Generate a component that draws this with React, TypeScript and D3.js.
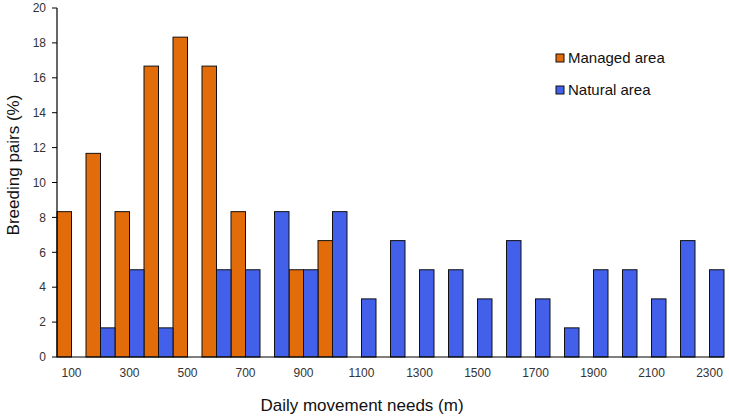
import React from 'react';
import * as d3 from 'd3';

// distances (m) for each class
const categories = [100, 200, 300, 400, 500, 600, 700, 800, 900, 1000, 1100, 1200,
  1300, 1400, 1500, 1600, 1700, 1800, 1900, 2000, 2100, 2200, 2300];

// % of breeding pairs
const managed = [8.33, 11.67, 8.33, 16.67, 18.33, 16.67, 8.33, 0, 5, 6.67, 0, 0,
  0, 0, 0, 0, 0, 0, 0, 0, 0, 0, 0];
const natural = [0, 1.67, 5, 1.67, 0, 5, 5, 8.33, 5, 8.33, 3.33, 6.67,
  5, 5, 3.33, 6.67, 3.33, 1.67, 5, 5, 3.33, 6.67, 5];

const yTicks = [0, 2, 4, 6, 8, 10, 12, 14, 16, 18, 20];
const xTickLabels = [100, 300, 500, 700, 900, 1100, 1300, 1500, 1700, 1900, 2100, 2300];

const seriesNames = ['Managed area', 'Natural area'];
const colors = ['#E36C0A', '#4260EA'];

const W = 729;
const H = 417;
const font = 'Arial, "Liberation Sans", sans-serif';

const App = () => {
  const x = d3.scaleBand<number>()
    .domain(categories)
    .range([57, 724])
    .padding(0);

  const sub = d3.scaleBand<number>()
    .domain([0, 1])
    .range([0, x.bandwidth()])
    .padding(0);

  const y = d3.scaleLinear()
    .domain([0, 20])
    .range([357, 8]);

  const series = [managed, natural];

  return (
    <div style={{ position: 'fixed', left: 0, top: 0 }}>
      <svg width={W} height={H} style={{ display: 'block', background: '#fff' }}>
        {/* bars */}
        {series.map((vals, s) => (
          <g key={s}>
            {vals.map((v, i) => (
              v > 0 ? (
                <rect
                  key={i}
                  x={x(categories[i])! + sub(s)!}
                  y={y(v)}
                  width={sub.bandwidth()}
                  height={y(0) - y(v)}
                  fill={colors[s]}
                  stroke="#111"
                  strokeWidth={1}
                />
              ) : null
            ))}
          </g>
        ))}

        {/* y axis */}
        <line x1={57} x2={57} y1={y(20)} y2={y(0)} stroke="#000" strokeWidth={1.2} />
        {yTicks.map(t => (
          <g key={t}>
            <line x1={52} x2={57} y1={y(t)} y2={y(t)} stroke="#000" strokeWidth={1} />
            <text x={46} y={y(t)} dy="0.35em" textAnchor="end"
              fontFamily={font} fontSize={12} fill="#333">{t}</text>
          </g>
        ))}

        {/* x axis */}
        <line x1={57} x2={724} y1={y(0)} y2={y(0)} stroke="#000" strokeWidth={1.2} />
        {xTickLabels.map(t => (
          <text key={t} x={x(t)! + x.bandwidth() / 2} y={377} textAnchor="middle"
            fontFamily={font} fontSize={12} fill="#333">{t}</text>
        ))}

        {/* axis titles */}
        <text x={362} y={411} textAnchor="middle" fontFamily={font} fontSize={17} fill="#111">
          Daily movement needs (m)
        </text>
        <text transform={`translate(19,${165}) rotate(-90)`} textAnchor="middle"
          fontFamily={font} fontSize={17} fill="#111">
          Breeding pairs (%)
        </text>

        {/* legend */}
        {seriesNames.map((name, i) => (
          <g key={name} transform={`translate(556,${54 + i * 32})`}>
            <rect x={0} y={0} width={8} height={8} fill={colors[i]} stroke="#111" strokeWidth={1} />
            <text x={12} y={4} dy="0.35em" fontFamily={font} fontSize={15} fill="#111">{name}</text>
          </g>
        ))}
      </svg>
    </div>
  );
};

export default App;
